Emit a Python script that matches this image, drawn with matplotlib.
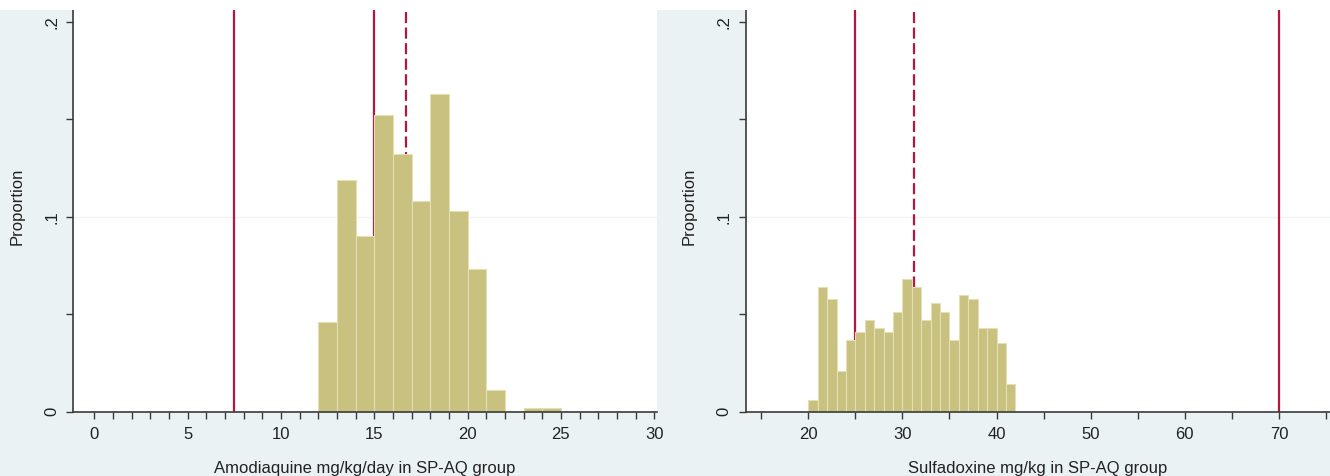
import numpy as np
import matplotlib
matplotlib.use("Agg")
import matplotlib.pyplot as plt
from matplotlib.patches import Rectangle

plt.rcParams['font.family'] = ['Liberation Sans', 'DejaVu Sans']

# ---- data ----
aq_edges = [12, 13, 14, 15, 16, 17, 18, 19, 20, 21, 22, 23, 24, 25]
aq_props = [0.046, 0.119, 0.090, 0.152, 0.132, 0.108, 0.163, 0.103, 0.073,
            0.011, 0.000, 0.002, 0.002]
aq_lines_solid = [7.5, 15]
aq_line_dashed = 16.7
aq_xticks = [0, 5, 10, 15, 20, 25, 30]
aq_xlabel = "Amodiaquine mg/kg/day in SP-AQ group"

sp_edges = list(range(20, 43))
sp_props = [0.006, 0.064, 0.058, 0.021, 0.037, 0.041, 0.047, 0.043, 0.041,
            0.051, 0.068, 0.064, 0.047, 0.056, 0.051, 0.037, 0.060, 0.058,
            0.043, 0.043, 0.035, 0.014]
sp_lines_solid = [25, 70]
sp_line_dashed = 31.2
sp_xticks = [20, 30, 40, 50, 60, 70]
sp_xlabel = "Sulfadoxine mg/kg in SP-AQ group"

yticks = [0, 0.1, 0.2]
yticklabels = ["0", ".1", ".2"]
ylabel = "Proportion"

# ---- style ----
BG = "#EAF2F3"
BAR = "#C9C17F"
BAR_EDGE = "#E4DFB4"
RED = "#B5163F"
AX = "#3A3A3A"

W, H = 1330, 476
fig = plt.figure(figsize=(W / 100, H / 100), dpi=100)
fig.patch.set_facecolor(BG)

ax_bottom_px = 476 - 411.7
ax_h = 411.7 / H
axL = fig.add_axes([73.3 / W, ax_bottom_px / H, (657 - 73.3) / W, ax_h])
axR = fig.add_axes([745.5 / W, ax_bottom_px / H, (W - 745.5) / W, ax_h])

ytop = 0.2 * 411.7 / 390.0


def style(ax, edges, props, solid, dashed, xlim, xticks, minor, xlabel):
    ax.set_facecolor("white")
    e = np.asarray(edges, dtype=float)
    ax.bar(e[:-1], props, width=np.diff(e), align="edge", color=BAR,
           edgecolor=BAR_EDGE, linewidth=0.8, zorder=2)
    for x in solid:
        ax.axvline(x, color=RED, lw=1.6, zorder=1)
    ln = ax.axvline(dashed, color=RED, lw=1.6, zorder=1)
    ln.set_dashes((5.0, 2.0))
    ax.axhline(0.1, color="#EEF3F4", lw=1.0, zorder=0)
    ax.set_xlim(*xlim)
    ax.set_ylim(0, ytop)
    ax.set_xticks(xticks)
    ax.set_xticklabels([str(t) for t in xticks])
    ax.set_xticks(minor, minor=True)
    ax.set_yticks(yticks)
    ax.set_yticklabels(yticklabels, rotation=90, va="center")
    ax.set_yticks([0.05, 0.15], minor=True)
    ax.tick_params(axis="both", which="both", direction="out", length=5,
                   width=1.0, color=AX, labelsize=12, labelcolor="#222222")
    ax.tick_params(axis="x", which="major", pad=6)
    ax.tick_params(axis="y", which="major", pad=5)
    for s in ("top", "right"):
        ax.spines[s].set_visible(False)
    for s in ("left", "bottom"):
        ax.spines[s].set_color(AX)
        ax.spines[s].set_linewidth(1.2)
    ax.set_xlabel(xlabel, fontsize=12, color="#222222", labelpad=14)
    ax.set_ylabel(ylabel, fontsize=12, color="#222222", labelpad=10)
    ax.yaxis.set_label_coords(-49 / (ax.get_position().width * W), 0.5)


style(axL, aq_edges, aq_props, aq_lines_solid, aq_line_dashed,
      (-1.12, 30.15), aq_xticks, np.arange(0, 31, 1), aq_xlabel)
style(axR, sp_edges, sp_props, sp_lines_solid, sp_line_dashed,
      (13.33, 75.42), sp_xticks, np.arange(15, 76, 10), sp_xlabel)

# white strip at the very top (cropped source)
fig.add_artist(Rectangle((0, 1 - 10 / H), 1, 10 / H, transform=fig.transFigure,
                         facecolor="white", edgecolor="none", zorder=10))

fig.savefig("out.png", dpi=100, facecolor=fig.get_facecolor())
